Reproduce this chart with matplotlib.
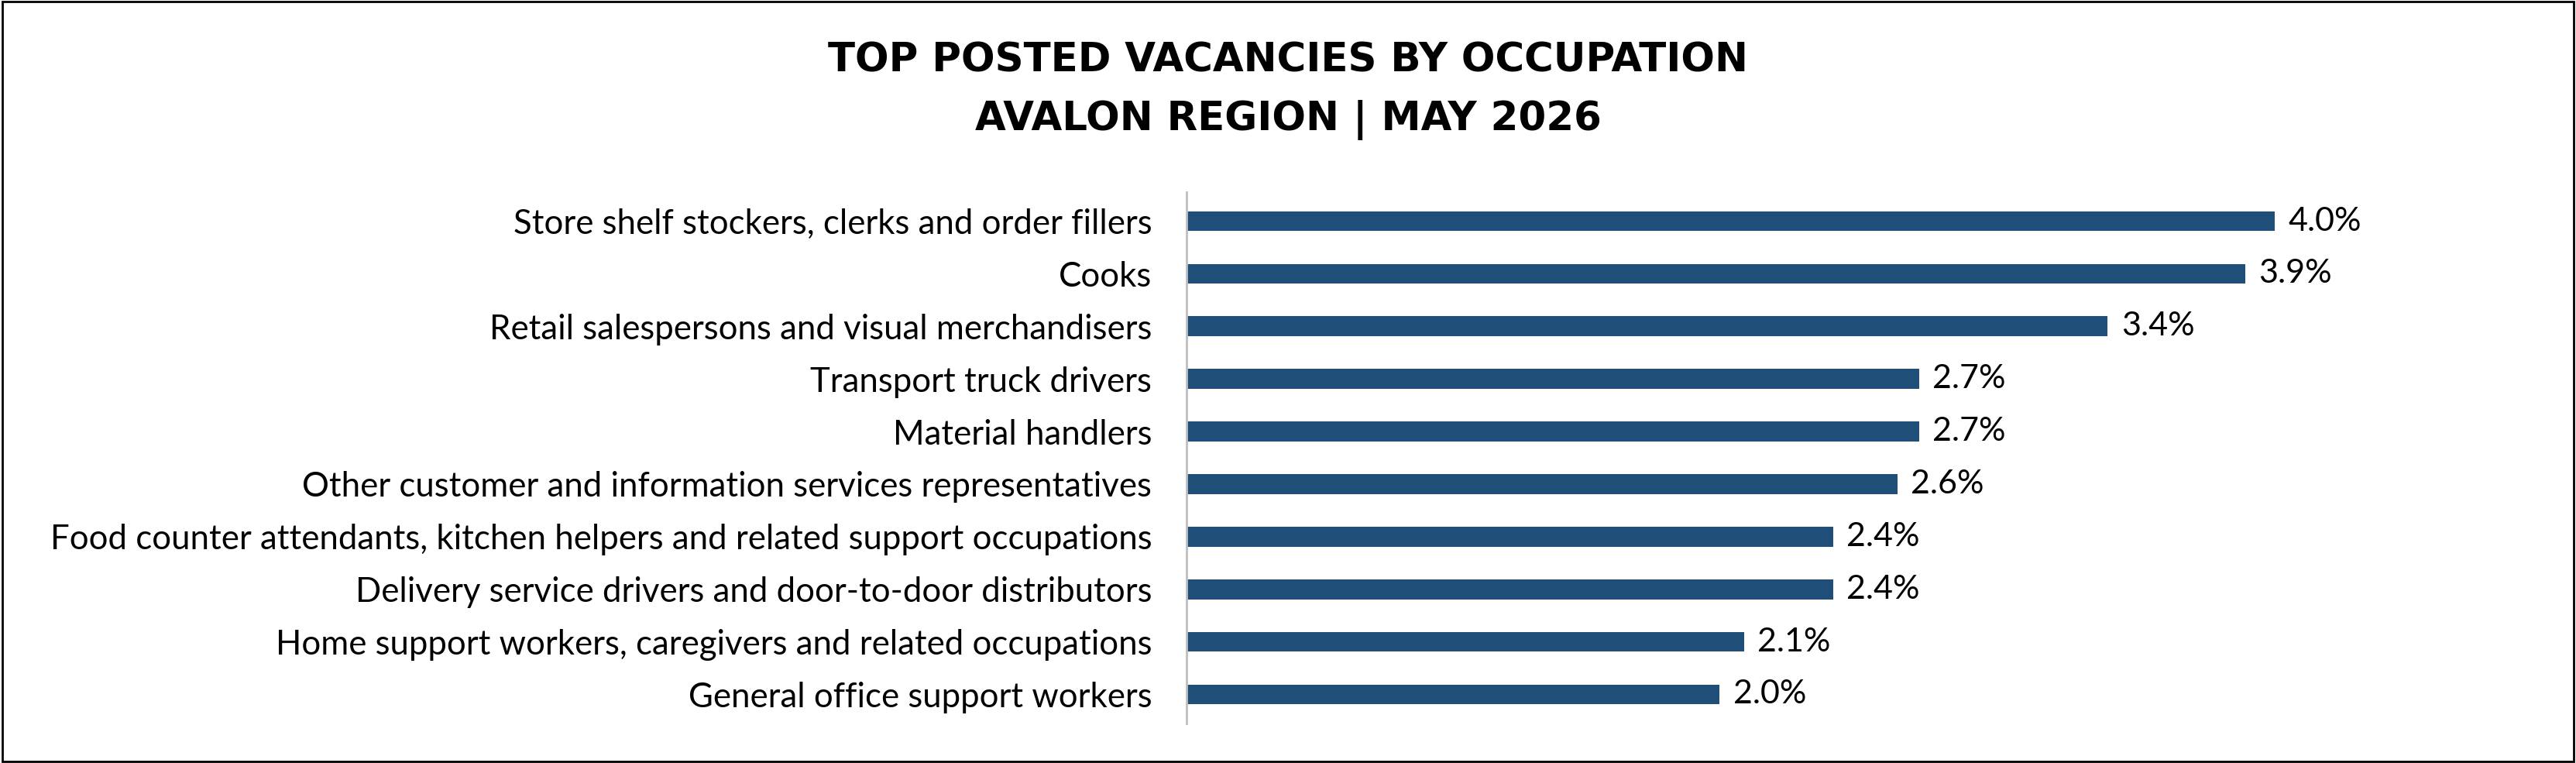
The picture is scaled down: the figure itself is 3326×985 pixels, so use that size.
import matplotlib
matplotlib.use("Agg")
import matplotlib.pyplot as plt
from matplotlib.patches import Rectangle

categories = [
    "Store shelf stockers, clerks and order fillers",
    "Cooks",
    "Retail salespersons and visual merchandisers",
    "Transport truck drivers",
    "Material handlers",
    "Other customer and information services representatives",
    "Food counter attendants, kitchen helpers and related support occupations",
    "Delivery service drivers and door-to-door distributors",
    "Home support workers, caregivers and related occupations",
    "General office support workers",
]
values = [4.04, 3.93, 3.42, 2.72, 2.72, 2.64, 2.40, 2.40, 2.07, 1.98]
labels = ["4.0%", "3.9%", "3.4%", "2.7%", "2.7%", "2.6%", "2.4%", "2.4%", "2.1%", "2.0%"]

fig = plt.figure(figsize=(33.26, 9.85), dpi=100)
ax = fig.add_axes([0.4605, 0.052, 0.4895, 0.696])
y = list(range(len(categories)))[::-1]
ax.barh(y, values, height=0.38, color="#1F4E79")
for yi, v, l in zip(y, values, labels):
    ax.text(v + 0.05, yi, l, va="center", ha="left", fontsize=31, family="Lato")
ax.set_yticks(y)
ax.set_yticklabels(categories, fontsize=31.5, family="Lato")
ax.set_xlim(0, 4.68)
ax.set_ylim(-0.55, 9.55)
ax.set_xticks([])
ax.tick_params(axis="y", length=0, pad=32)
for s in ["top", "right", "bottom"]:
    ax.spines[s].set_visible(False)
ax.spines["left"].set_color("#BFBFBF")
ax.spines["left"].set_linewidth(2)

fig.text(0.5, 0.92, "TOP POSTED VACANCIES BY OCCUPATION", ha="center", va="center",
         fontsize=37, fontweight="bold", family="DejaVu Sans")
fig.text(0.5, 0.843, "AVALON REGION | MAY 2026", ha="center", va="center",
         fontsize=37, fontweight="bold", family="DejaVu Sans")
fig.patches.append(Rectangle((0.001, 0.002), 0.998, 0.996, transform=fig.transFigure,
                             fill=False, edgecolor="black", linewidth=2))
fig.savefig("out.png", dpi=100)
